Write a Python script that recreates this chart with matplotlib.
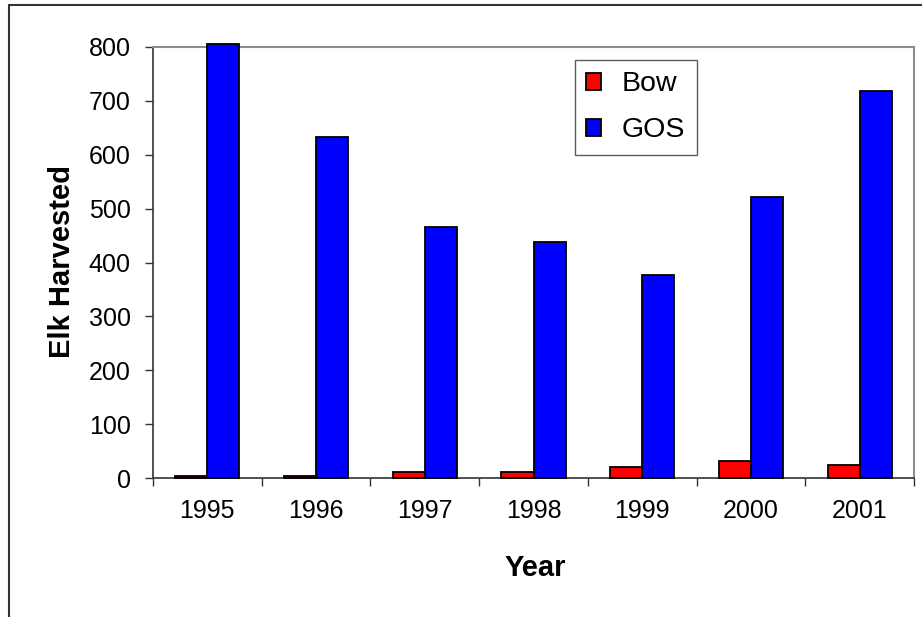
import matplotlib
matplotlib.use("Agg")
import matplotlib.pyplot as plt
from matplotlib.patches import Rectangle
import numpy as np

plt.rcParams['font.family'] = ['Liberation Sans', 'DejaVu Sans']

years = ["1995", "1996", "1997", "1998", "1999", "2000", "2001"]
bow = [3, 3, 12, 12, 20, 31, 24]
gos = [805, 633, 466, 438, 377, 521, 718]
series_names = ["Bow", "GOS"]
series_colors = ["#FF0000", "#0000FF"]
y_ticks = [0, 100, 200, 300, 400, 500, 600, 700, 800]

fig = plt.figure(figsize=(9.22, 6.17), dpi=100)
W, H = 922, 617

# outer chart frame
fig.patches.append(Rectangle((9 / W, -0.05), 1.2, 1 - 5 / H + 0.05,
                             transform=fig.transFigure, fill=False,
                             edgecolor="#333333", linewidth=1.5))

ax = fig.add_axes([153 / W, 1 - 478 / H, (914 - 153) / W, (478 - 47) / H])

x = np.arange(len(years))
bw = 0.295
ax.bar(x - bw / 2, bow, width=bw, color=series_colors[0], edgecolor="black",
       linewidth=1.3, label=series_names[0], clip_on=False, zorder=3)
ax.bar(x + bw / 2, gos, width=bw, color=series_colors[1], edgecolor="black",
       linewidth=1.3, label=series_names[1], clip_on=False, zorder=3)

ax.set_xlim(-0.5, len(years) - 0.5)
ax.set_ylim(0, 800)
ax.set_yticks(y_ticks)
ax.set_yticklabels([str(v) for v in y_ticks], fontsize=18)
ax.set_xticks(x)
ax.set_xticklabels(years, fontsize=18)
ax.tick_params(axis="x", length=0, pad=15)
ax.tick_params(axis="y", length=6, width=1, color="#333333", pad=10)

# category boundary ticks below the x axis
ax.set_xticks(np.arange(-0.5, len(years), 1.0), minor=True)
ax.tick_params(axis="x", which="minor", length=6, width=1, color="#333333")

for side in ("top", "right"):
    ax.spines[side].set_color("#8C8C8C")
    ax.spines[side].set_linewidth(1.5)
for side in ("left", "bottom"):
    ax.spines[side].set_color("#333333")
    ax.spines[side].set_linewidth(1.2)

fig.text(535 / W, 1 - 568 / H, "Year", fontsize=21, fontweight="bold",
         ha="center", va="center")
fig.text(62 / W, 1 - 262 / H, "Elk Harvested", fontsize=21, fontweight="bold",
         ha="center", va="center", rotation=90)

leg = ax.legend(loc="upper left",
                bbox_to_anchor=((575 - 153) / (914 - 153), 1 + (47 - 60) / (478 - 47)),
                fontsize=20.5, frameon=True, fancybox=False, edgecolor="#333333",
                handlelength=0.5, handleheight=0.55, handletextpad=0.75,
                borderpad=0.4, labelspacing=0.7, borderaxespad=0)
leg.get_frame().set_linewidth(1.0)

fig.savefig("out.png", dpi=100, facecolor="white")
